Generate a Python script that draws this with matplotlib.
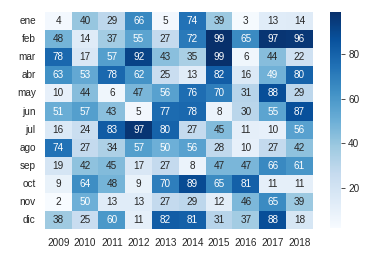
import numpy as np
import pandas as pd
import seaborn as sns
import matplotlib
matplotlib.use("Agg")
import matplotlib.pyplot as plt

meses = ["ene", "feb", "mar", "abr", "may", "jun",
         "jul", "ago", "sep", "oct", "nov", "dic"]
anios = [2009, 2010, 2011, 2012, 2013, 2014, 2015, 2016, 2017, 2018]

ene = [4, 40, 29, 66, 5, 74, 39, 3, 13, 14]
feb = [48, 14, 37, 55, 27, 72, 99, 65, 97, 96]
mar = [78, 17, 57, 92, 43, 35, 99, 6, 44, 22]
abr = [63, 53, 78, 62, 25, 13, 82, 16, 49, 80]
may = [10, 44, 6, 47, 56, 76, 70, 31, 88, 29]
jun = [51, 57, 43, 5, 77, 78, 8, 30, 55, 87]
jul = [16, 24, 83, 97, 80, 27, 45, 11, 10, 56]
ago = [74, 27, 34, 57, 50, 56, 28, 10, 27, 42]
sep = [19, 42, 45, 17, 27, 8, 47, 47, 66, 61]
oct_ = [9, 64, 48, 9, 70, 89, 65, 81, 11, 11]
nov = [2, 50, 13, 13, 27, 29, 12, 46, 65, 39]
dic = [38, 25, 60, 11, 82, 81, 31, 37, 88, 18]

df = pd.DataFrame([ene, feb, mar, abr, may, jun, jul, ago, sep, oct_, nov, dic],
                  index=meses, columns=anios)

sns.set_theme(style="white")
plt.rcParams['font.family'] = ['Liberation Sans', 'DejaVu Sans']

fig = plt.figure(figsize=(377/72, 256/72), dpi=72)
ax = fig.add_axes([0.119, 0.105, 0.711, 0.848])
cax = fig.add_axes([0.875, 0.109, 0.03, 0.844])
sns.heatmap(df, annot=True, fmt="d", cmap="Blues", ax=ax, cbar_ax=cax,
            annot_kws={"size": 10})
ax.tick_params(axis='x', length=0, labelsize=10, pad=9)
ax.tick_params(axis='y', length=0, labelsize=10, pad=9)
ax.set_yticklabels(meses, rotation=0)
cax.tick_params(length=4, labelsize=10, width=0.8, pad=3)
cax.yaxis.set_ticks_position('right')

fig.savefig("out.png", dpi=72)
